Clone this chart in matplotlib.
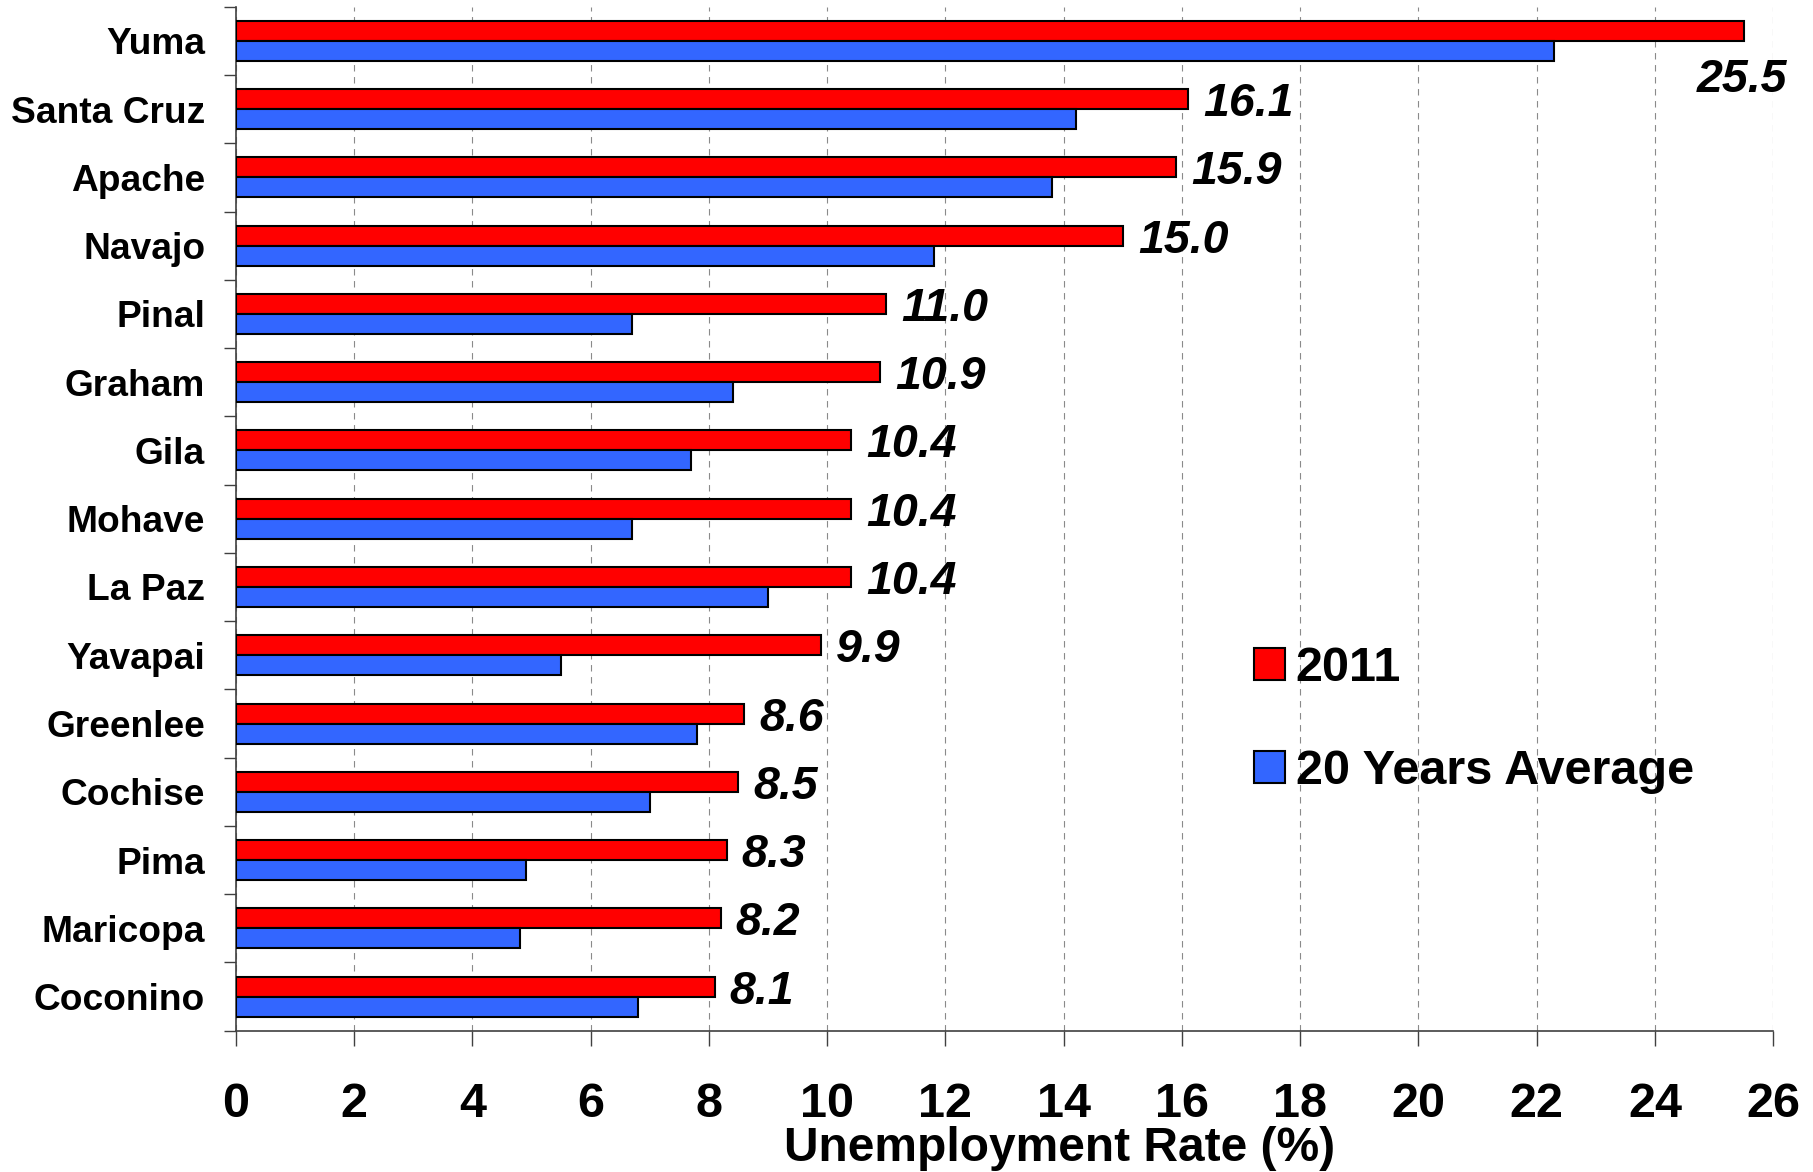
import matplotlib
matplotlib.use("Agg")
import matplotlib.pyplot as plt
import numpy as np
from matplotlib.ticker import FixedLocator, NullFormatter, FixedFormatter

# ---- data ----
counties = ["Yuma", "Santa Cruz", "Apache", "Navajo", "Pinal", "Graham", "Gila",
            "Mohave", "La Paz", "Yavapai", "Greenlee", "Cochise", "Pima",
            "Maricopa", "Coconino"]
rate_2011 = [25.5, 16.1, 15.9, 15.0, 11.0, 10.9, 10.4, 10.4, 10.4, 9.9, 8.6,
             8.5, 8.3, 8.2, 8.1]
avg_20yr = [22.3, 14.2, 13.8, 11.8, 6.7, 8.4, 7.7, 6.7, 9.0, 5.5, 7.8, 7.0,
            4.9, 4.8, 6.8]
series_names = ["2011", "20 Years Average"]
x_ticks = list(range(0, 27, 2))
x_label = "Unemployment Rate (%)"

# ---- style ----
plt.rcParams["font.family"] = ["Liberation Sans", "DejaVu Sans"]
plt.rcParams["font.weight"] = "bold"
RED = "#FF0000"
BLUE = "#3366FF"
AXC = "#404040"
PX = 72 / 100.0  # points per pixel at dpi 100

fig = plt.figure(figsize=(18.13, 11.72), dpi=100)
ax = fig.add_axes([0.13006, 0.12056, 0.84804, 0.87372])

n = len(counties)
pos = np.arange(n)
h = 0.293
bars_red = ax.barh(pos - h / 2, rate_2011, height=h, color=RED,
                   edgecolor="black", linewidth=1.5, label=series_names[0],
                   zorder=3)
bars_blue = ax.barh(pos + h / 2, avg_20yr, height=h, color=BLUE,
                    edgecolor="black", linewidth=1.5, label=series_names[1],
                    zorder=3)

ax.set_xlim(0, 26)
ax.set_ylim(n - 0.5, -0.5)

# x axis
ax.set_xticks(x_ticks)
ax.set_xticklabels([str(t) for t in x_ticks])
ax.tick_params(axis="x", which="major", direction="out", length=15 * PX,
               width=1, color=AXC, pad=26, labelsize=35)
ax.xaxis.grid(True, linestyle=(0, (5.8, 5)), color="#8a8a8a", linewidth=0.8,
              zorder=0)
ax.set_axisbelow(True)

# y axis: major ticks at boundaries, labels at minor ticks
ax.yaxis.set_major_locator(FixedLocator(np.arange(-0.5, n, 1.0)))
ax.yaxis.set_major_formatter(NullFormatter())
ax.yaxis.set_minor_locator(FixedLocator(pos))
ax.yaxis.set_minor_formatter(FixedFormatter(counties))
ax.tick_params(axis="y", which="major", direction="out", length=12 * PX,
               width=1, color=AXC)
ax.tick_params(axis="y", which="minor", length=0, pad=22, labelsize=26.7)

for s in ["top", "right"]:
    ax.spines[s].set_visible(False)
for s in ["left", "bottom"]:
    ax.spines[s].set_color(AXC)
    ax.spines[s].set_linewidth(1.2)

ax.set_xlabel(x_label, fontsize=34.5, fontweight="bold")
ax.xaxis.set_label_coords(0.536, -0.0935)

# value labels for 2011
for i, v in enumerate(rate_2011):
    yc = pos[i] - h / 2
    if v > 24:
        ax.annotate(f"{v:.1f}", xy=(v, yc), xytext=(-2 * PX, -44.6 * PX),
                    textcoords="offset points", ha="center",
                    va="center_baseline", fontsize=33.5, fontweight="bold",
                    fontstyle="italic", zorder=4)
    else:
        ax.annotate(f"{v:.1f}", xy=(v, yc), xytext=(15 * PX, 0),
                    textcoords="offset points", ha="left",
                    va="center_baseline", fontsize=33.5, fontweight="bold",
                    fontstyle="italic", zorder=4)

leg = ax.legend(handles=[bars_red, bars_blue], loc="upper left",
                bbox_to_anchor=(1254 / 1813, 1 - 646 / 1172),
                bbox_transform=fig.transFigure, frameon=False,
                borderaxespad=0, borderpad=0, handlelength=0.64,
                handleheight=0.64, handletextpad=0.22, labelspacing=1.19,
                prop={"size": 35, "weight": "bold"})

fig.savefig("out.png", dpi=100)
